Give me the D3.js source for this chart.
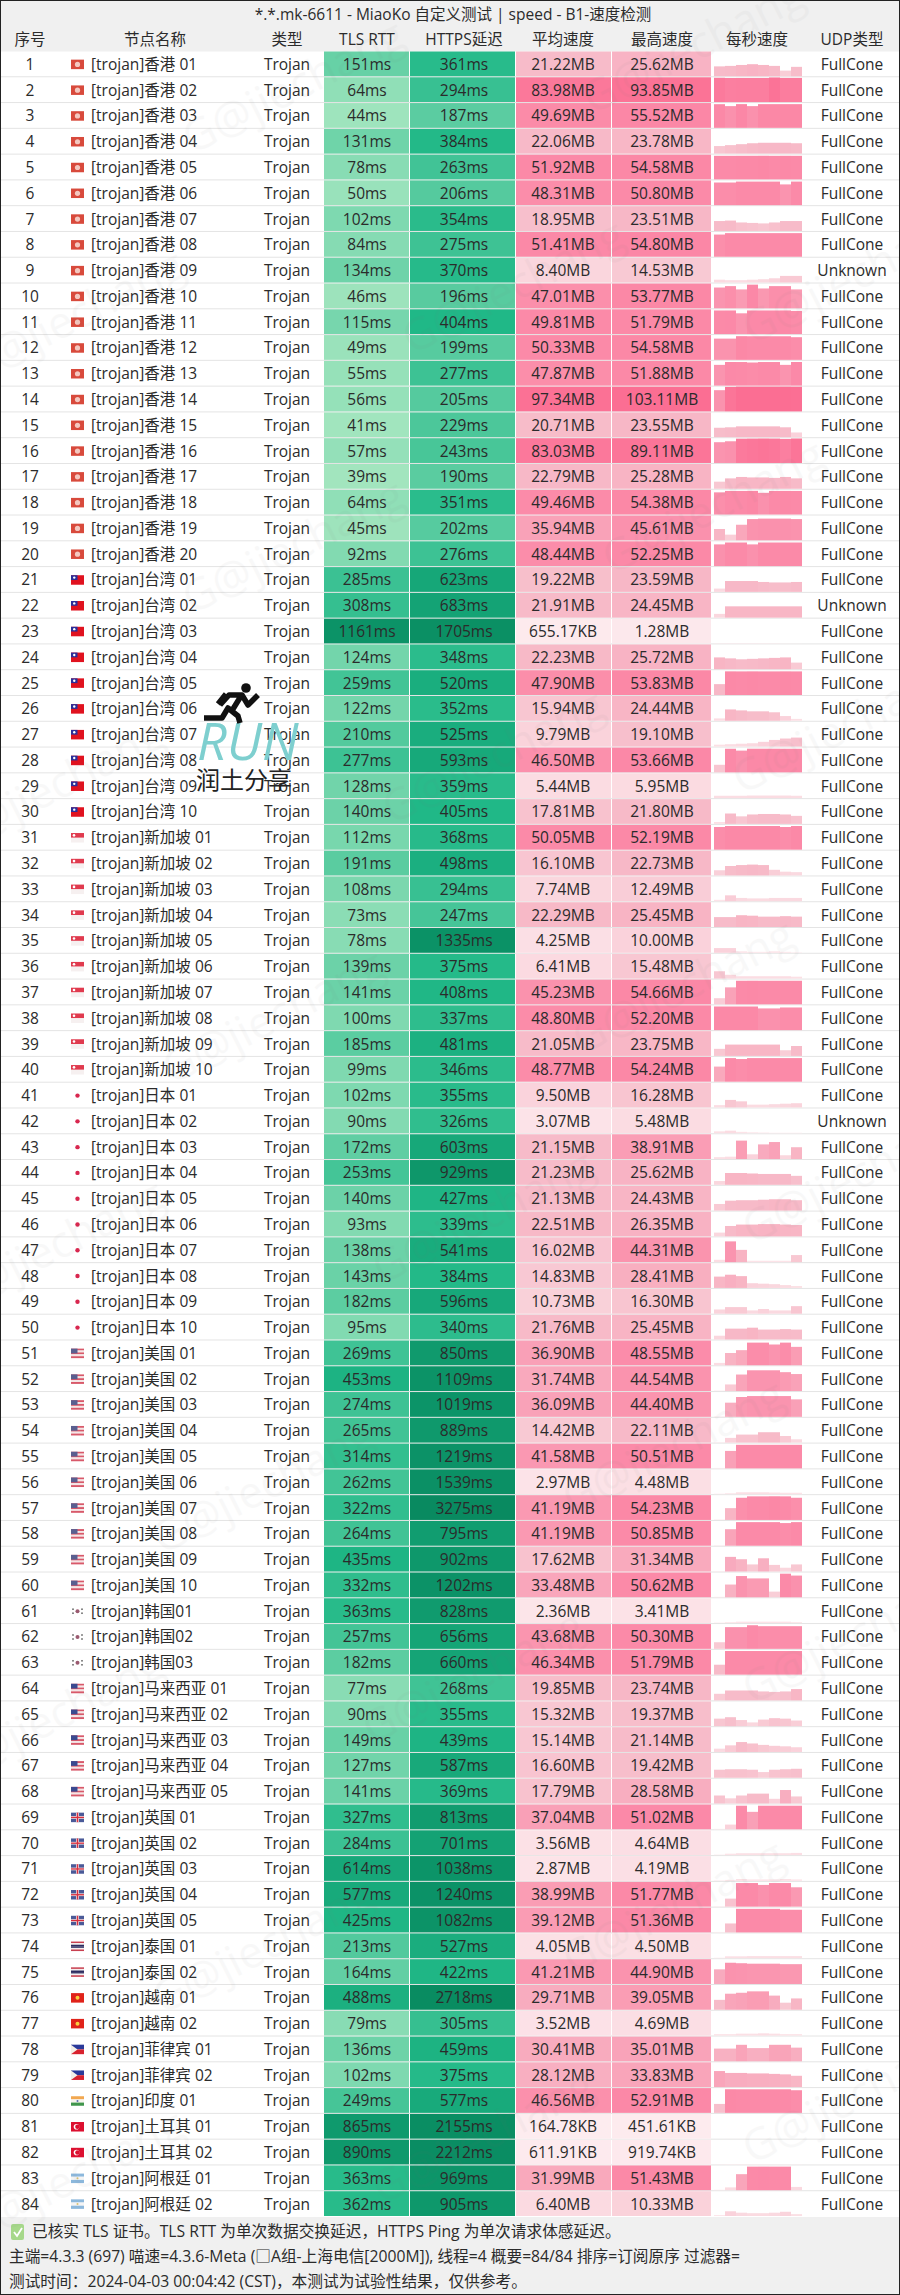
<!DOCTYPE html>
<html>
<head>
<meta charset="utf-8">
<title>speed</title>
<style>
    html, body { margin: 0; padding: 0; background: #fff; }
    svg { display: block; }
    text { font-family: "Open Sans", "Noto Sans CJK SC", sans-serif; fill: #2b2b2b; }
</style>
</head>
<body>
<div id="chart"></div>
<script src="https://cdnjs.cloudflare.com/ajax/libs/d3/7.8.5/d3.min.js"></script>
<script>
var titleText = '*.*.mk-6611 - MiaoKo 自定义测试 | speed - B1-速度检测';
var headers = ['序号', '节点名称', '类型', 'TLS RTT', 'HTTPS延迟', '平均速度', '最高速度', '每秒速度', 'UDP类型'];
var footerLines = [
    '已核实 TLS 证书。TLS RTT 为单次数据交换延迟，HTTPS Ping 为单次请求体感延迟。',
    '主端=4.3.3 (697) 喵速=4.3.6-Meta (□A组-上海电信[2000M]), 线程=4 概要=84/84 排序=订阅原序 过滤器=',
    '测试时间：2024-04-03 00:04:42 (CST)，本测试为试验性结果，仅供参考。'
];

var regions = ['香港', '台湾', '新加坡', '日本', '美国', '韩国', '马来西亚', '英国', '泰国', '越南', '菲律宾', '印度', '土耳其', '阿根廷'];
var regionFlags = ['hk', 'tw', 'sg', 'jp', 'us', 'kr', 'my', 'gb', 'th', 'vn', 'ph', 'in', 'tr', 'ar'];

var nodeNames = [
    '香港 01','香港 02','香港 03','香港 04','香港 05','香港 06','香港 07','香港 08','香港 09','香港 10',
    '香港 11','香港 12','香港 13','香港 14','香港 15','香港 16','香港 17','香港 18','香港 19','香港 20',
    '台湾 01','台湾 02','台湾 03','台湾 04','台湾 05','台湾 06','台湾 07','台湾 08','台湾 09','台湾 10',
    '新加坡 01','新加坡 02','新加坡 03','新加坡 04','新加坡 05','新加坡 06','新加坡 07','新加坡 08','新加坡 09','新加坡 10',
    '日本 01','日本 02','日本 03','日本 04','日本 05','日本 06','日本 07','日本 08','日本 09','日本 10',
    '美国 01','美国 02','美国 03','美国 04','美国 05','美国 06','美国 07','美国 08','美国 09','美国 10',
    '韩国01','韩国02','韩国03',
    '马来西亚 01','马来西亚 02','马来西亚 03','马来西亚 04','马来西亚 05',
    '英国 01','英国 02','英国 03','英国 04','英国 05',
    '泰国 01','泰国 02','越南 01','越南 02','菲律宾 01','菲律宾 02','印度 01','土耳其 01','土耳其 02','阿根廷 01','阿根廷 02'
];

var tlsRtt = [
    151,64,44,131,78,50,102,84,134,46,115,49,55,56,41,57,39,64,45,92,
    285,308,1161,124,259,122,210,277,128,140,
    112,191,108,73,78,139,141,100,185,99,
    102,90,172,253,140,93,138,143,182,95,
    269,453,274,265,314,262,322,264,435,332,
    363,257,182,77,90,149,127,141,327,284,614,577,425,
    213,164,488,79,136,102,249,865,890,363,362
];
var httpsPing = [
    361,294,187,384,263,206,354,275,370,196,404,199,277,205,229,243,190,351,202,276,
    623,683,1705,348,520,352,525,593,359,405,
    368,498,294,247,1335,375,408,337,481,346,
    355,326,603,929,427,339,541,384,596,340,
    850,1109,1019,889,1219,1539,3275,795,902,1202,
    828,656,660,268,355,439,587,369,813,701,1038,1240,1082,
    527,422,2718,305,459,375,577,2155,2212,969,905
];
var avgSpeed = [
    '21.22MB','83.98MB','49.69MB','22.06MB','51.92MB','48.31MB','18.95MB','51.41MB','8.40MB','47.01MB',
    '49.81MB','50.33MB','47.87MB','97.34MB','20.71MB','83.03MB','22.79MB','49.46MB','35.94MB','48.44MB',
    '19.22MB','21.91MB','655.17KB','22.23MB','47.90MB','15.94MB','9.79MB','46.50MB','5.44MB','17.81MB',
    '50.05MB','16.10MB','7.74MB','22.29MB','4.25MB','6.41MB','45.23MB','48.80MB','21.05MB','48.77MB',
    '9.50MB','3.07MB','21.15MB','21.23MB','21.13MB','22.51MB','16.02MB','14.83MB','10.73MB','21.76MB',
    '36.90MB','31.74MB','36.09MB','14.42MB','41.58MB','2.97MB','41.19MB','41.19MB','17.62MB','33.48MB',
    '2.36MB','43.68MB','46.34MB','19.85MB','15.32MB','15.14MB','16.60MB','17.79MB','37.04MB','3.56MB',
    '2.87MB','38.99MB','39.12MB','4.05MB','41.21MB','29.71MB','3.52MB','30.41MB','28.12MB','46.56MB',
    '164.78KB','611.91KB','31.99MB','6.40MB'
];
var maxSpeed = [
    '25.62MB','93.85MB','55.52MB','23.78MB','54.58MB','50.80MB','23.51MB','54.80MB','14.53MB','53.77MB',
    '51.79MB','54.58MB','51.88MB','103.11MB','23.55MB','89.11MB','25.28MB','54.38MB','45.61MB','52.25MB',
    '23.59MB','24.45MB','1.28MB','25.72MB','53.83MB','24.44MB','19.10MB','53.66MB','5.95MB','21.80MB',
    '52.19MB','22.73MB','12.49MB','25.45MB','10.00MB','15.48MB','54.66MB','52.20MB','23.75MB','54.24MB',
    '16.28MB','5.48MB','38.91MB','25.62MB','24.43MB','26.35MB','44.31MB','28.41MB','16.30MB','25.45MB',
    '48.55MB','44.54MB','44.40MB','22.11MB','50.51MB','4.48MB','54.23MB','50.85MB','31.34MB','50.62MB',
    '3.41MB','50.30MB','51.79MB','23.74MB','19.37MB','21.14MB','19.42MB','28.58MB','51.02MB','4.64MB',
    '4.19MB','51.77MB','51.36MB','4.50MB','44.90MB','39.05MB','4.69MB','35.01MB','33.83MB','52.91MB',
    '451.61KB','919.74KB','51.43MB','10.33MB'
];
var unknownUdp = [9, 22, 42]; // row numbers, the rest is FullCone

// per second speed in MB, 8 samples a row
var perSecond = [
    [21,22,24,25.6,24,22,12,20],[80,70,72,72,72,93,75,75],[52,46,55,46,54,54,54,54],[16,18,20,22,23,23,23,22],
    [50,50,52,52,54,50,52,50],[48,48,50,50,50,50,44,50],[21,22,18,17,16,18,21,21],[47,50,50,50,50,50,50,50],
    [6,5,5,6,7,9,14,14],[44,47,40,53,42,47,47,40],[50,51,44,51,51,51,52,49],[45,45,54,50,50,50,50,48],
    [44,51,50,49,50,50,44,51],[45,90,103,103,103,103,103,100],[20,21,23,23,23,23,21,10],[44,46,80,85,89,85,70,89],
    [15,22,25,24,24,23,25,22],[47,50,50,54,46,50,52,50],[24,12,33,45,46,46,46,45],[46,50,50,46,50,50,50,50],
    [7,23,23,23,21,20,20,21],[8,24,24,24,24,24,24,24],[0.7,1,1,1,0.9,0.7,0.4,0.3],[25,23,21,22,23,24,25,14],
    [23,52,50,52,50,50,52,50],[5,24,22,20,20,18,10,4],[4,5,6,7,10,14,17,19],[16,50,46,52,52,52,50,50],
    [5,5,5,5.5,5.5,5.5,5.5,5],[4,22,16,20,21,21,20,17],[48,52,52,52,52,52,48,52],[11,20,22,23,22,12,8,7],
    [3,12.5,7,6,6,7,7,7],[21,21,25,24,22,22,23,22],[10,10,3,2,2,3,2,1],[15.5,8,5,5,5,5,5,4],
    [13,36,50,52,50,50,50,50],[52,52,52,52,46,46,48,48],[15,24,24,24,24,24,12,21],[32,50,48,50,50,50,50,50],
    [5,16,13,6,6,7,8,9],[4,5.5,3,2,1.5,1,1,1],[4,5,39,10,31,36,8,25],[8,25,25,24,23,23,23,19],
    [14,21,22,22,23,24,24,22],[8,22,25,25,26,26,25,24],[5,44,26,3,3,3,3,15],[24,28,25,10,9,8,6,4],
    [9,14,14,7,10,7,7,16],[8,23,23,25,21,21,22,21],[5,26,32,48,48,44,48,39],[1,14,35,44,44,44,40,36],
    [1,30,42,44,44,44,44,37],[1,10,17,17,22,22,14,7],[1,37,50,50,50,50,50,50],[1,2,4,4,4,3.5,3,3],
    [1,25,47,50,50,54,50,47],[1,35,50,50,50,50,48,50],[1,31,26,15,28,14,8,15],[1,27,45,40,40,12,50.6,46],
    [1,2,3,3,3,3,3,2],[14,46,46,50,48,48,48,48],[21,50,50,50,50,50,50,50],[14,21,21,21,19,18,19,24],
    [16,19,13,8,14,17,16,12],[7,14,21,18,15,13,12,10],[17,18,18,17,12,17,18,19],[17,11,17,21,21,10,28.6,15],
    [1,10,50,37,50,50,50,50],[1,3,4,4,4,4,4,4.6],[1,2,4,3,3,3,4,3],[1,17,50,50,46,50,50,41],
    [1,19,50,50,50,50,48,48],[1,4,4,4.5,4.5,4.5,4.5,4.5],[31,45,44,43,43,43,42,42],[21,34,36,39,39,30,15,24],
    [3,3,4,4,4.7,4,3,3],[27,27,35,28,28,35,35,29],[34,30,30,29,29,28,27,24],[19,52,50,50,50,50,50,48],
    [0.1,0.2,0.2,0.3,0.2,0.1,0.1,0.1],[0.5,0.8,0.9,0.7,0.6,0.5,0.5,0.4],[1,6,34,50,51,50,50,7],[2,10,7,6,6,7,9,4]
];

var w = 900, h = 2295;
var tableTop = 51.5, tableBottom = 2217;
var colEdges = [1, 60, 240, 324, 410, 516, 612, 712, 804, 899];
var headerX = [30, 155, 287, 367, 464, 563, 662, 757, 852];
var nameX = 91, flagX = 71, flagW = 13, flagH = 9.5;

var svg = d3.select('#chart').append('svg').attr('width', w).attr('height', h);

var y = d3.scaleBand().domain(d3.range(nodeNames.length)).range([tableTop, tableBottom]);
var sparkX = d3.scaleBand().domain(d3.range(8)).range([714, 802]);
var sparkH = d3.scaleLinear().domain([0, 50, 110]).range([0, 23.6, 25]).clamp(true);

var pingColor = d3.scaleLog()
    .domain([40, 100, 200, 400, 1000, 3300])
    .range(['#a2e5be', '#7fd9b0', '#57cb9f', '#20b887', '#0c9468', '#098a60'])
    .clamp(true);
var speedColor = d3.scaleLinear()
    .domain([0, 5, 20, 50, 110])
    .range(['#fdecef', '#fbdde3', '#f7bdca', '#fb8aa8', '#fb6a90'])
    .clamp(true);

function toMB(s) {
    var v = parseFloat(s);
    return s.indexOf('KB') > 0 ? v / 1024 : v;
}

// background bands
svg.append('rect').attr('x', 0).attr('y', 0).attr('width', w).attr('height', tableTop).attr('fill', '#f0f0f0');
svg.append('rect').attr('x', 0).attr('y', tableBottom).attr('width', w).attr('height', h - tableBottom).attr('fill', '#f0f0f0');

// row separators
svg.selectAll('line.sep').data(d3.range(1, nodeNames.length)).enter().append('line')
    .attr('class', 'sep')
    .attr('x1', 0).attr('x2', w)
    .attr('y1', function(d) { return y(d) - 0.5; })
    .attr('y2', function(d) { return y(d) - 0.5; })
    .attr('stroke', '#e4e4e4');

var rows = svg.selectAll('g.row').data(d3.range(nodeNames.length)).enter().append('g')
    .attr('class', 'row')
    .attr('transform', function(i) { return 'translate(0,' + y(i) + ')'; });

function cellRects(left, right, color) {
    rows.append('rect')
        .attr('x', left)
        .attr('y', 0)
        .attr('width', right - left - 1)
        .attr('height', y.bandwidth() - 1)
        .attr('fill', color);
}
cellRects(colEdges[3], colEdges[4], function(i) { return pingColor(tlsRtt[i]); });
cellRects(colEdges[4], colEdges[5], function(i) { return pingColor(httpsPing[i]); });
cellRects(colEdges[5], colEdges[6], function(i) { return speedColor(toMB(avgSpeed[i])); });
cellRects(colEdges[6], colEdges[7], function(i) { return speedColor(toMB(maxSpeed[i])); });

// per second bars
rows.selectAll('rect.bar')
    .data(function(i) { return perSecond[i]; })
    .enter().append('rect')
    .attr('class', 'bar')
    .attr('x', function(d, j) { return sparkX(j); })
    .attr('width', sparkX.bandwidth())
    .attr('y', function(d) { return y.bandwidth() - 1 - sparkH(d); })
    .attr('height', function(d) { return sparkH(d); })
    .attr('fill', function(d) { return speedColor(d); });

function cellText(x, label, anchor) {
    rows.append('text')
        .attr('x', x)
        .attr('y', y.bandwidth() / 2 + 5.5)
        .attr('text-anchor', anchor || 'middle')
        .attr('font-size', 15.5)
        .text(label);
}
cellText(headerX[0], function(i) { return i + 1; });
cellText(nameX, function(i) { return '[trojan]' + nodeNames[i]; }, 'start');
cellText(headerX[2], 'Trojan');
cellText(headerX[3], function(i) { return tlsRtt[i] + 'ms'; });
cellText(headerX[4], function(i) { return httpsPing[i] + 'ms'; });
cellText(headerX[5], function(i) { return avgSpeed[i]; });
cellText(headerX[6], function(i) { return maxSpeed[i]; });
cellText(headerX[8], function(i) { return unknownUdp.indexOf(i + 1) >= 0 ? 'Unknown' : 'FullCone'; });

// flags, little svg shapes as there is no emoji font
function drawFlag(g, code) {
    var fw = flagW, fh = flagH;
    function r(x, yy, ww, hh, c) { g.append('rect').attr('x', x).attr('y', yy).attr('width', ww).attr('height', hh).attr('fill', c); }
    function c(x, yy, rad, col) { g.append('circle').attr('cx', x).attr('cy', yy).attr('r', rad).attr('fill', col); }
    function stripes(cols) {
        cols.forEach(function(col, k) { r(0, k * fh / cols.length, fw, fh / cols.length, col); });
    }
    if (code === 'hk') { r(0, 0, fw, fh, '#d84a3c'); c(fw / 2, fh / 2, 2.6, '#f4c8c0'); }
    if (code === 'tw') { r(0, 0, fw, fh, '#e0121f'); r(0, 0, fw / 2, fh / 2, '#2a2f9a'); c(fw / 4, fh / 4, 1.2, '#fff'); }
    if (code === 'sg') { stripes(['#e03a4e', '#f6f0f0']); c(3, 2.3, 1.3, '#fff'); }
    if (code === 'jp') { c(fw / 2, fh / 2, 2.2, '#d8274f'); }
    if (code === 'us') { stripes(['#d8596a', '#f4e6e6', '#d8596a', '#f4e6e6', '#d8596a']); r(0, 0, fw / 2, fh / 2, '#5a5f90'); }
    if (code === 'kr') { c(fw / 2, fh / 2, 2, '#9a5a70'); r(1, 2, 2, 1.6, '#888'); r(10, 2, 2, 1.6, '#888'); r(1, 6, 2, 1.6, '#888'); r(10, 6, 2, 1.6, '#888'); }
    if (code === 'my') { stripes(['#d8596a', '#f4e6e6', '#d8596a', '#f4e6e6', '#d8596a']); r(0, 0, fw / 2, fh / 2, '#3a4a90'); }
    if (code === 'gb') { r(0, 0, fw, fh, '#4a5a98'); r(0, 3.4, fw, 2.7, '#f6e6e6'); r(5.1, 0, 2.8, fh, '#f6e6e6'); r(0, 4.1, fw, 1.3, '#d83040'); r(5.8, 0, 1.4, fh, '#d83040'); }
    if (code === 'th') { stripes(['#c84050', '#f4eeee', '#2c2c60', '#2c2c60', '#f4eeee', '#c84050']); }
    if (code === 'vn') { r(0, 0, fw, fh, '#e0231a'); c(fw / 2, fh / 2, 2, '#f8d040'); }
    if (code === 'ph') {
        stripes(['#2a3a9a', '#d8222e']);
        g.append('path').attr('d', 'M0,0L6.5,' + fh / 2 + 'L0,' + fh + 'Z').attr('fill', '#f4f0e8');
    }
    if (code === 'in') { stripes(['#f2a850', '#f6f4ee', '#40964c']); c(fw / 2, fh / 2, 1, '#5a6ab0'); }
    if (code === 'tr') { r(0, 0, fw, fh, '#dc1030'); c(5.5, fh / 2, 2.8, '#fff'); c(6.4, fh / 2, 2.2, '#dc1030'); }
    if (code === 'ar') { stripes(['#8cb8dc', '#f4f4f4', '#8cb8dc']); c(fw / 2, fh / 2, 1, '#d8c070'); }
}
rows.append('g')
    .attr('transform', 'translate(' + flagX + ',' + (y.bandwidth() / 2 - flagH / 2) + ')')
    .each(function(i) {
        var region = nodeNames[i].replace(/ ?\d+$/, '');
        drawFlag(d3.select(this), regionFlags[regions.indexOf(region)]);
    });

// title and header
svg.append('text')
    .attr('x', 453).attr('y', 19.5)
    .attr('text-anchor', 'middle')
    .attr('font-size', 15.5)
    .text(titleText);
svg.selectAll('text.head').data(headers).enter().append('text')
    .attr('class', 'head')
    .attr('x', function(d, i) { return headerX[i]; })
    .attr('y', 44.5)
    .attr('text-anchor', 'middle')
    .attr('font-size', 15.5)
    .text(function(d) { return d; });

// footer
var footY = [2237, 2262, 2287];
svg.selectAll('text.foot').data(footerLines).enter().append('text')
    .attr('class', 'foot')
    .attr('x', function(d, i) { return i === 0 ? 32 : 9; })
    .attr('y', function(d, i) { return footY[i]; })
    .attr('font-size', 15.7)
    .text(function(d) { return d; });
svg.append('rect').attr('x', 11).attr('y', 2224).attr('width', 13).attr('height', 16).attr('rx', 2).attr('fill', '#a6d88a');
svg.append('path').attr('d', 'M14,2232l3,4l5,-8').attr('fill', 'none').attr('stroke', '#fff').attr('stroke-width', 1.8);

// watermark, repeated slanted text
var marks = [[300,100],[700,60],[80,330],[520,300],[860,290],[300,560],[720,520],[60,800],[500,770],[850,740],
    [280,1030],[690,1000],[60,1260],[490,1230],[860,1190],[270,1500],[680,1460],[60,1730],[480,1690],[860,1650],
    [270,1960],[680,1920],[80,2190],[490,2150],[860,2110]];
svg.selectAll('text.mark').data(marks).enter().append('text')
    .attr('class', 'mark')
    .attr('transform', function(d) { return 'translate(' + d[0] + ',' + d[1] + ') rotate(-27)'; })
    .attr('text-anchor', 'middle')
    .attr('font-size', 44)
    .style('fill', '#777')
    .style('opacity', 0.045)
    .text('G@jiechang');

// run logo sitting over the table
var logo = svg.append('g');
logo.append('text')
    .attr('x', 197).attr('y', 760)
    .attr('font-size', 52)
    .attr('font-style', 'italic')
    .style('font-family', '"Open Sans", sans-serif')
    .style('fill', '#7ecfcf')
    .text('RUN');
logo.append('text')
    .attr('x', 196).attr('y', 789)
    .attr('font-size', 24)
    .style('font-family', '"Noto Sans CJK SC", sans-serif')
    .style('fill', '#222')
    .text('润土分享');
logo.append('circle').attr('cx', 246).attr('cy', 688).attr('r', 4.8).attr('fill', '#111');
logo.append('path')
    .attr('d', 'M204,718H222L228,708L238,716L240,723M220,705L229,695H242L248,705L258,695M218,704L226,694M241,696L233,709')
    .attr('fill', 'none').attr('stroke', '#111').attr('stroke-width', 5.5).attr('stroke-linejoin', 'round');

// outer frame
svg.append('rect').attr('x', 0.5).attr('y', 0.5).attr('width', w - 1).attr('height', h - 1)
    .attr('fill', 'none').attr('stroke', '#222');
</script>
</body>
</html>
